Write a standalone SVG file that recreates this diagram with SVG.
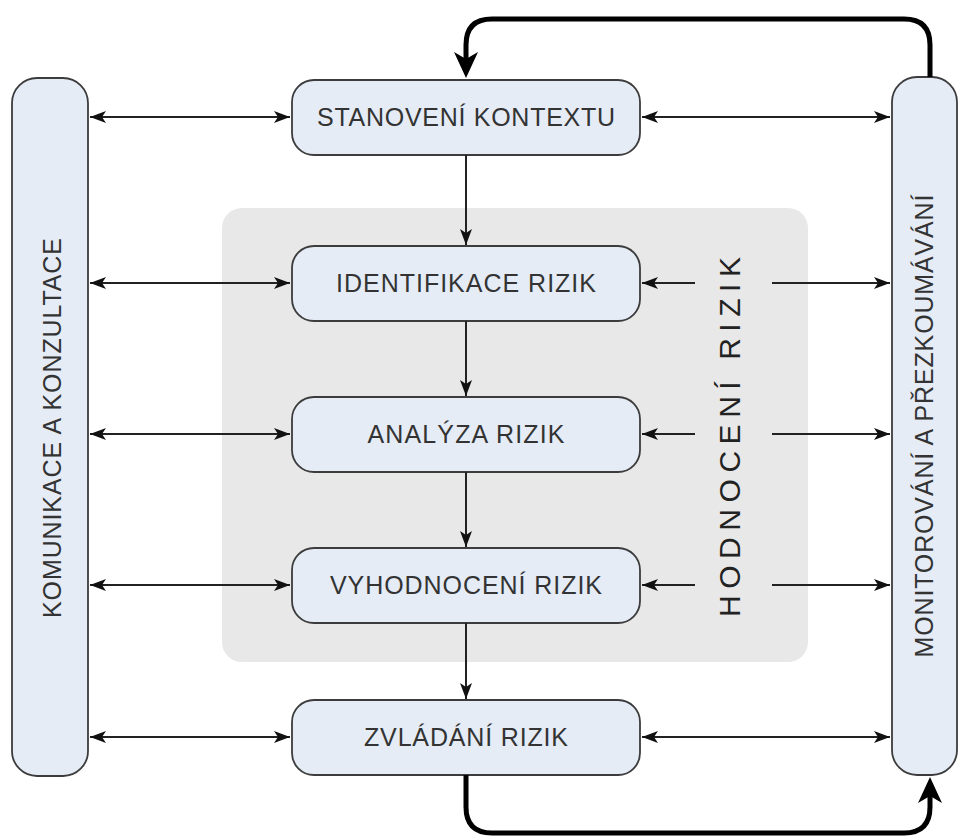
<svg xmlns="http://www.w3.org/2000/svg" width="958" height="837" viewBox="0 0 958 837">
<defs>
<style>
.bar{fill:#e5ecf6;stroke:#3c3c3c;stroke-width:1.8}
.box{fill:#e5ecf6;stroke:#3c3c3c;stroke-width:1.8}
.lbl{font-family:"Liberation Sans",Arial,sans-serif;font-size:25px;fill:#333;text-anchor:middle}
.big{font-family:"Liberation Sans",Arial,sans-serif;font-size:30px;fill:#222;text-anchor:middle}
.thin{fill:none;stroke:#222;stroke-width:2}
.thick{fill:none;stroke:#000;stroke-width:5}
</style>
<marker id="ah" viewBox="0 0 16 12" refX="16" refY="6" markerWidth="16" markerHeight="12" markerUnits="userSpaceOnUse" orient="auto-start-reverse">
<path d="M0,0 L16,6 L0,12 L4,6 Z" fill="#111"/>
</marker>
<marker id="ahb" viewBox="0 0 26 24" refX="16" refY="12" markerWidth="26" markerHeight="24" markerUnits="userSpaceOnUse" orient="auto">
<path d="M0,0 L26,12 L0,24 L7,12 Z" fill="#000"/>
</marker>
</defs>
<rect width="958" height="837" fill="#ffffff"/>
<g id="hodnoceni-rizik">
<rect x="222" y="208" width="586" height="454" rx="20" fill="#e8e8e8"/>
<text class="big" transform="translate(740,437) rotate(-90)" textLength="360" lengthAdjust="spacing">HODNOCENÍ RIZIK</text>
</g>
<g id="komunikace">
<rect class="bar" x="12" y="78" width="76" height="698" rx="25"/>
<text class="lbl" transform="translate(61,428) rotate(-90)" textLength="380" lengthAdjust="spacing">KOMUNIKACE A KONZULTACE</text>
</g>
<g id="monitorovani">
<rect class="bar" x="892" y="77" width="65" height="698" rx="25"/>
<text class="lbl" transform="translate(933,426) rotate(-90)" textLength="463" lengthAdjust="spacing">MONITOROVÁNÍ A PŘEZKOUMÁVÁNÍ</text>
</g>
<g id="kontext">
<rect class="box" x="292" y="80" width="348" height="75" rx="22"/>
<text class="lbl" x="466" y="126" textLength="298" lengthAdjust="spacing">STANOVENÍ KONTEXTU</text>
</g>
<g id="identifikace">
<rect class="box" x="292" y="246" width="348" height="75" rx="22"/>
<text class="lbl" x="466" y="292" textLength="260" lengthAdjust="spacing">IDENTIFIKACE RIZIK</text>
</g>
<g id="analyza">
<rect class="box" x="292" y="397" width="348" height="75" rx="22"/>
<text class="lbl" x="466" y="443" textLength="197" lengthAdjust="spacing">ANALÝZA RIZIK</text>
</g>
<g id="vyhodnoceni">
<rect class="box" x="292" y="548" width="348" height="75" rx="22"/>
<text class="lbl" x="466" y="594" textLength="272" lengthAdjust="spacing">VYHODNOCENÍ RIZIK</text>
</g>
<g id="zvladani">
<rect class="box" x="292" y="700" width="348" height="75" rx="22"/>
<text class="lbl" x="466" y="746" textLength="204" lengthAdjust="spacing">ZVLÁDÁNÍ RIZIK</text>
</g>
<g id="connectors">
<path class="thin" d="M90,117 H290" marker-start="url(#ah)" marker-end="url(#ah)"/>
<path class="thin" d="M90,283 H290" marker-start="url(#ah)" marker-end="url(#ah)"/>
<path class="thin" d="M90,434 H290" marker-start="url(#ah)" marker-end="url(#ah)"/>
<path class="thin" d="M90,585 H290" marker-start="url(#ah)" marker-end="url(#ah)"/>
<path class="thin" d="M90,737 H290" marker-start="url(#ah)" marker-end="url(#ah)"/>
<path class="thin" d="M642,117 H890" marker-start="url(#ah)" marker-end="url(#ah)"/>
<path class="thin" d="M642,737 H890" marker-start="url(#ah)" marker-end="url(#ah)"/>
<path class="thin" d="M695,283 H642" marker-end="url(#ah)"/>
<path class="thin" d="M772,283 H890" marker-end="url(#ah)"/>
<path class="thin" d="M695,434 H642" marker-end="url(#ah)"/>
<path class="thin" d="M772,434 H890" marker-end="url(#ah)"/>
<path class="thin" d="M695,585 H642" marker-end="url(#ah)"/>
<path class="thin" d="M772,585 H890" marker-end="url(#ah)"/>
<path class="thin" d="M466,155 V245" marker-end="url(#ah)"/>
<path class="thin" d="M466,321 V396" marker-end="url(#ah)"/>
<path class="thin" d="M466,472 V547" marker-end="url(#ah)"/>
<path class="thin" d="M466,623 V699" marker-end="url(#ah)"/>
<path class="thick" d="M930,77 V45 Q930,19 904,19 H492 Q466,19 466,45 V68" marker-end="url(#ahb)"/>
<path class="thick" d="M466,775 V807 Q466,833 492,833 H904 Q930,833 930,807 V787" marker-end="url(#ahb)"/>
</g>
</svg>
